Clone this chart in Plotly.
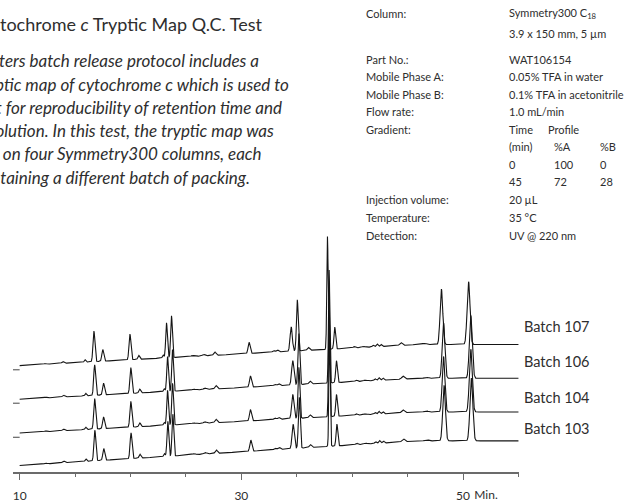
import numpy as np
import plotly.graph_objects as go

# ---------------- data ----------------
batches = ["Batch 107", "Batch 106", "Batch 104", "Batch 103"]
# baseline level (detector signal, arbitrary units) at the knots below
baseline_t = [10.0, 46.0, 55.0]
baseline_levels = [
    [109.3, 131.0, 131.0],   # Batch 107
    [74.7, 96.3, 96.3],      # Batch 106
    [40.0, 61.7, 61.7],      # Batch 104
    [6.7, 32.0, 32.0],       # Batch 103
]
rt_scale = [1.000, 1.004, 1.004, 1.005]   # small retention drift per batch
offset_marks = [105.0, 70.7, 35.7]         # small reference dashes at left

peak_rt = [12.3, 13.9, 15.9, 16.7, 17.5, 19.95, 20.75, 22.95, 23.25, 23.7,
           25.6, 26.6, 27.6, 30.7, 32.9, 33.25, 34.5, 35.05, 36.05, 37.77,
           38.43, 40.2, 41.0, 41.9, 42.25, 42.6, 44.4, 46.5, 48.05, 50.5]
peak_height = [0.8, 1.8, 2.5, 31.5, 12.0, 26.5, 4.0, 3.0, 36.0, 43.0,
               1.0, 1.5, 3.5, 11.5, 1.5, 2.0, 25.0, 52.5, 3.0, 116.0,
               22.5, 1.5, 1.0, 1.8, 2.8, 2.2, 3.0, 1.2, 57.0, 64.5]
peak_sigma = [0.10, 0.10, 0.07, 0.085, 0.085, 0.085, 0.08, 0.07, 0.075, 0.075,
              0.15, 0.12, 0.10, 0.09, 0.10, 0.10, 0.10, 0.08, 0.10, 0.06,
              0.075, 0.10, 0.15, 0.08, 0.08, 0.08, 0.12, 0.15, 0.12, 0.13]

tick_vals = [10, 30, 50]
tick_text = ["10", "30", "50"]
minor_vals = [15, 20, 25, 35, 40, 45, 55]
unit_text = "Min."

title_text = "Cytochrome <i>c</i> Tryptic Map Q.C. Test"
para_lines = [
    "Waters batch release protocol includes a",
    "tryptic map of cytochrome c which is used to",
    "test for reproducibility of retention time and",
    "resolution. In this test, the tryptic map was",
    "run on four Symmetry300 columns, each",
    "containing a different batch of packing.",
]
cond_labels = ["Column:", "", "Part No.:", "Mobile Phase A:", "Mobile Phase B:",
               "Flow rate:", "Gradient:", "", "", "", "Injection volume:",
               "Temperature:", "Detection:"]
cond_values = ["Symmetry300 C<sub>18</sub>", "3.9 x 150 mm, 5 µm", "WAT106154",
               "0.05% TFA in water", "0.1% TFA in acetonitrile", "1.0 mL/min",
               "Time", "(min)", "0", "45", "20 µL", "35 °C", "UV @ 220 nm"]
grad_col_a = ["Profile", "%A", "100", "72"]
grad_col_b = ["", "%B", "0", "28"]

# ---------------- figure geometry ----------------
W, H = 625, 503
ML, MR, MT, MB = 13, 106, 0, 18
PW, PH = W - ML - MR, H - MT - MB
XR = [9.4, 55.05]

def px(xp):
    return (xp - ML) / PW

def py(yp):
    return (H - MB - yp) / PH

def xdata(xp):
    return XR[0] + (xp - ML) * (XR[1] - XR[0]) / PW

t = np.arange(10.0, 55.0001, 0.01)

fig = go.Figure()
for i, name in enumerate(batches):
    sig = np.interp(t, baseline_t, baseline_levels[i])
    for rt, h, s in zip(peak_rt, peak_height, peak_sigma):
        sig = sig + h * np.exp(-0.5 * ((t - rt * rt_scale[i]) / s) ** 2)
    fig.add_trace(go.Scatter(x=t, y=sig, mode="lines", name=name,
                             line=dict(color="#151515", width=1.1),
                             showlegend=False, hoverinfo="skip"))

mx, my = [], []
for m in offset_marks:
    mx += [9.4, 10.0, None]
    my += [m, m, None]
fig.add_trace(go.Scatter(x=mx, y=my, mode="lines", line=dict(color="#444", width=1),
                         showlegend=False, hoverinfo="skip"))
# empty trace so the overlaid unit axis is drawn
fig.add_trace(go.Scatter(x=[None], y=[None], xaxis="x2", mode="lines",
                         showlegend=False, hoverinfo="skip"))

ann = []
FONT = "Lato"
TXT = "#2e2e2e"

def note(text, xp, yp, size, **kw):
    d = dict(text=text, x=px(xp), xref="paper", y=py(yp), yref="paper",
             xanchor="left", yanchor="middle", showarrow=False,
             font=dict(family=FONT, size=size, color=TXT))
    d.update(kw)
    ann.append(d)

# batch labels, placed just above the end of each trace
for i, name in enumerate(batches):
    ann.append(dict(text=name, x=px(522), xref="paper",
                    y=baseline_levels[i][-1] + 19 - 2 * i, yref="y",
                    xanchor="left", yanchor="middle", showarrow=False,
                    font=dict(family=FONT, size=14.5, color=TXT)))

# title and paragraph
note(title_text, -23, 25, 18)
for k, line in enumerate(para_lines):
    note("<i>" + line + "</i>", -27, 62.5 + 23.9 * k, 17)

# conditions panel
row_y = [14, 34, 61, 79, 97, 115, 133, 151, 169, 187, 205, 224, 242]
for lab, val, yy in zip(cond_labels, cond_values, row_y):
    if lab:
        note(lab, 364, yy, 11)
    note(val, 507, yy, 11)
for k, (a, b) in enumerate(zip(grad_col_a, grad_col_b)):
    yy = row_y[6 + k]
    note(a, 546 if k == 0 else 552, yy, 11)
    if b:
        note(b, 598, yy, 11)

tickfont = dict(family=FONT, size=12, color=TXT)
fig.update_layout(
    width=W, height=H,
    margin=dict(l=ML, r=MR, t=MT, b=MB, pad=0),
    paper_bgcolor="white", plot_bgcolor="white",
    showlegend=False,
    annotations=ann,
    xaxis=dict(range=XR, showline=True, linecolor="#6b6b6b", linewidth=1.5,
               ticks="outside", ticklen=6, tickwidth=1, tickcolor="#6b6b6b",
               tickvals=tick_vals, ticktext=tick_text, ticklabelstandoff=6,
               tickfont=tickfont,
               showgrid=False, zeroline=False, fixedrange=True,
               minor=dict(tickvals=minor_vals, ticks="outside", ticklen=3,
                          tickwidth=1, tickcolor="#6b6b6b", showgrid=False)),
    xaxis2=dict(range=XR, overlaying="x", anchor="y", side="bottom",
                showline=False, showgrid=False, zeroline=False, fixedrange=True,
                ticks="outside", ticklen=6, tickcolor="rgba(0,0,0,0)",
                tickvals=[xdata(486)], ticktext=[unit_text], ticklabelstandoff=6,
                tickfont=tickfont),
    yaxis=dict(range=[0, PH], visible=False, fixedrange=True),
)

fig.write_html("out.html", config={"displayModeBar": False},
               post_script="document.body.style.margin='0';")
